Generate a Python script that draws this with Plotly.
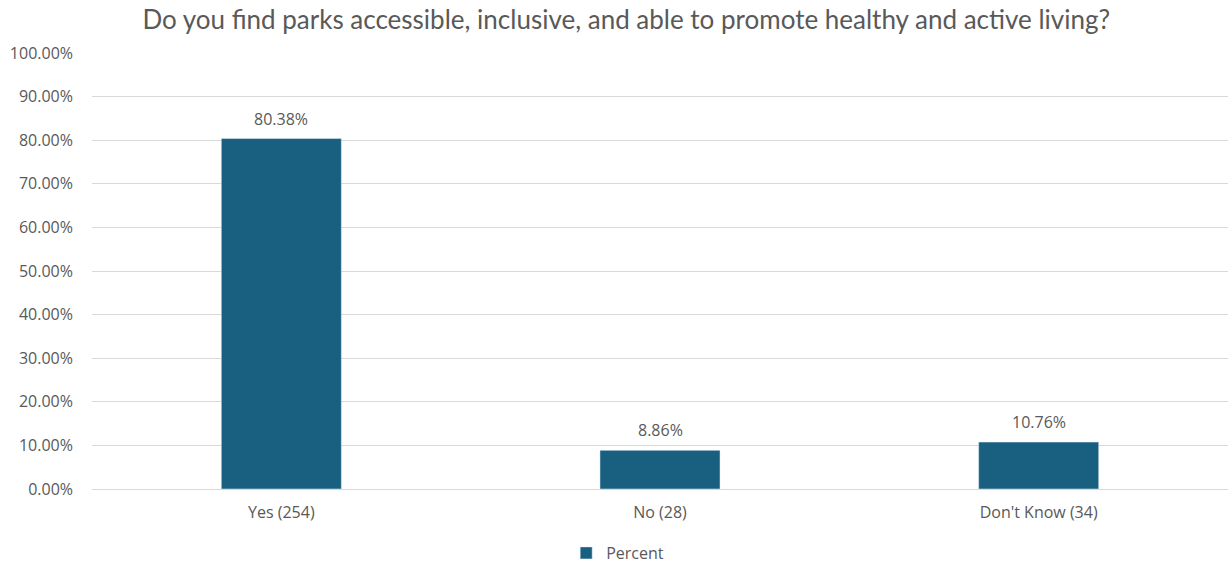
import plotly.graph_objects as go

# Survey responses: share of respondents per answer
categories = ["Yes (254)", "No (28)", "Don't Know (34)"]
percent = [0.8038, 0.0886, 0.1076]
series_name = "Percent"

BAR_COLOR = "#185f80"
TEXT_COLOR = "#595959"
GRID_COLOR = "#d9d9d9"
TITLE_FONT = "Lato, 'Open Sans', sans-serif"
LABEL_FONT = "'Open Sans', 'Noto Sans', sans-serif"
LABEL_SIZE = 16

fig = go.Figure(
    go.Bar(
        x=categories,
        y=percent,
        name=series_name,
        marker=dict(color=BAR_COLOR),
        showlegend=True,
    )
)

# Value labels above each bar
for cat, val in zip(categories, percent):
    fig.add_annotation(
        x=cat,
        y=val,
        text=f"{val:.2%}",
        showarrow=False,
        yanchor="bottom",
        yshift=7,
        font=dict(size=LABEL_SIZE, color=TEXT_COLOR, family=LABEL_FONT),
    )

fig.update_layout(
    width=1228,
    height=565,
    paper_bgcolor="white",
    plot_bgcolor="white",
    margin=dict(l=92, r=0, t=53, b=76),
    bargap=0.683,
    font=dict(family=LABEL_FONT, color=TEXT_COLOR, size=LABEL_SIZE),
    title=dict(
        text="Do you find parks accessible, inclusive, and able to promote healthy and active living?",
        font=dict(size=26, color=TEXT_COLOR, family=TITLE_FONT),
        x=0.51,
        xref="container",
        xanchor="center",
        y=1 - 20 / 565,
        yref="container",
        yanchor="middle",
    ),
    legend=dict(
        orientation="h",
        x=0.503,
        xref="container",
        xanchor="center",
        y=1 - 553 / 565,
        yref="container",
        yanchor="middle",
        font=dict(size=LABEL_SIZE, color=TEXT_COLOR, family=LABEL_FONT),
    ),
    xaxis=dict(
        showgrid=False,
        showline=False,
        ticks="",
        tickfont=dict(size=LABEL_SIZE, color=TEXT_COLOR, family=LABEL_FONT),
        ticklabelstandoff=12,
    ),
    yaxis=dict(
        range=[0, 1.0],
        dtick=0.1,
        tickformat=".2%",
        showgrid=True,
        gridcolor=GRID_COLOR,
        gridwidth=1,
        zeroline=True,
        zerolinecolor=GRID_COLOR,
        zerolinewidth=1,
        showline=False,
        ticks="",
        tickfont=dict(size=LABEL_SIZE, color=TEXT_COLOR, family=LABEL_FONT),
        ticklabelstandoff=18,
    ),
)

fig.write_html("out.html")
